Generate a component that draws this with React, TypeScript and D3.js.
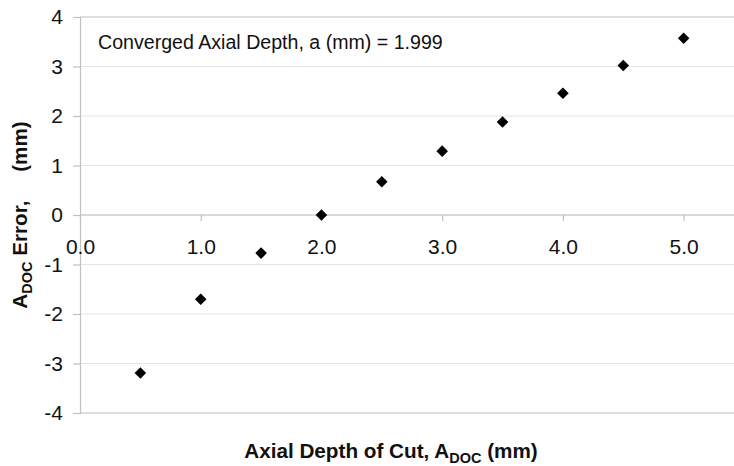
import React, { useEffect, useRef } from "react";
import * as d3 from "d3";

// datos
const depths = [0.5, 1.0, 1.5, 2.0, 2.5, 3.0, 3.5, 4.0, 4.5, 5.0];
const errors = [-3.19, -1.7, -0.77, 0.0, 0.67, 1.29, 1.88, 2.46, 3.02, 3.57];
const xTicks = [0, 1, 2, 3, 4, 5];
const yTicks = [-4, -3, -2, -1, 0, 1, 2, 3, 4];
const note = "Converged Axial Depth, a (mm) = 1.999";

const W = 734;
const H = 466;

const App = () => {
  const svgRef = useRef<SVGSVGElement>(null);

  useEffect(() => {
    const svg = d3.select(svgRef.current);
    svg.selectAll("*").remove();
    const font = "Arial, 'Liberation Sans', sans-serif";

    // escalas
    const x = d3.scaleLinear().domain([0, 5.5]).range([80, 744]);
    const y = d3.scaleLinear().domain([-4, 4]).range([413, 17]);

    // lineas de grilla
    svg
      .append("g")
      .selectAll("line")
      .data(yTicks)
      .enter()
      .append("line")
      .attr("x1", x(0))
      .attr("x2", W)
      .attr("y1", (d) => y(d))
      .attr("y2", (d) => y(d))
      .attr("stroke", (d) => (d === 4 || d === -4 ? "#c0c0c0" : "#e4e4e4"))
      .attr("stroke-width", 1.2);

    // eje Y (con guion normal, no signo menos)
    const yAxis = svg
      .append("g")
      .attr("transform", `translate(${x(0)},0)`)
      .call(
        d3
          .axisLeft(y)
          .tickValues(yTicks)
          .tickSize(7)
          .tickPadding(10)
          .tickFormat((d) => String(d))
      );
    yAxis.select(".domain").attr("stroke", "#c0c0c0").attr("stroke-width", 1.2);
    yAxis.selectAll(".tick line").attr("stroke", "#c0c0c0").attr("stroke-width", 1.2);
    yAxis
      .selectAll(".tick text")
      .attr("fill", "#111")
      .style("font-family", font)
      .style("font-size", "21px");

    // eje X en y = 0
    const xAxis = svg
      .append("g")
      .attr("transform", `translate(0,${y(0)})`)
      .call(
        d3
          .axisBottom(x)
          .tickValues(xTicks)
          .tickSize(6)
          .tickPadding(18)
          .tickFormat(d3.format(".1f"))
      );
    xAxis.select(".domain").remove();
    xAxis
      .append("line")
      .attr("x1", x(0))
      .attr("x2", W)
      .attr("stroke", "#c0c0c0")
      .attr("stroke-width", 1.2);
    xAxis.selectAll(".tick line").attr("stroke", "#c0c0c0").attr("stroke-width", 1.2);
    xAxis
      .selectAll(".tick text")
      .attr("fill", "#111")
      .style("font-family", font)
      .style("font-size", "21px");

    // puntos (rombos)
    const diamond = d3.symbol().type(d3.symbolDiamond2).size(85);
    svg
      .append("g")
      .selectAll("path")
      .data(depths)
      .enter()
      .append("path")
      .attr("d", diamond)
      .attr("transform", (d, i) => `translate(${x(d)},${y(errors[i])})`)
      .attr("fill", "#000");

    // anotacion
    svg
      .append("text")
      .attr("x", 98)
      .attr("y", 48.5)
      .attr("fill", "#111")
      .style("font-family", font)
      .style("font-size", "19.6px")
      .text(note);

    // titulo eje X
    const xt = svg
      .append("text")
      .attr("x", 391)
      .attr("y", 458)
      .attr("text-anchor", "middle")
      .attr("fill", "#111")
      .style("font-family", font)
      .style("font-size", "20.7px")
      .style("font-weight", "bold")
      .style("white-space", "pre");
    xt.append("tspan").text("Axial Depth of Cut, A");
    xt.append("tspan").attr("dy", 5).style("font-size", "14.5px").text("DOC");
    xt.append("tspan").attr("dy", -5).text(" (mm)");

    // titulo eje Y
    const yt = svg
      .append("text")
      .attr("transform", `translate(27,215) rotate(-90)`)
      .attr("text-anchor", "middle")
      .attr("fill", "#111")
      .style("font-family", font)
      .style("font-size", "20.7px")
      .style("font-weight", "bold")
      .style("white-space", "pre");
    yt.append("tspan").text("A");
    yt.append("tspan").attr("dy", 5).style("font-size", "14.5px").text("DOC");
    yt.append("tspan").attr("dy", -5).text(" Error,     (mm)");
  }, []);

  return (
    <svg
      ref={svgRef}
      width={W}
      height={H}
      style={{ position: "absolute", left: 0, top: 0, background: "#fff" }}
    ></svg>
  );
};

export default App;
